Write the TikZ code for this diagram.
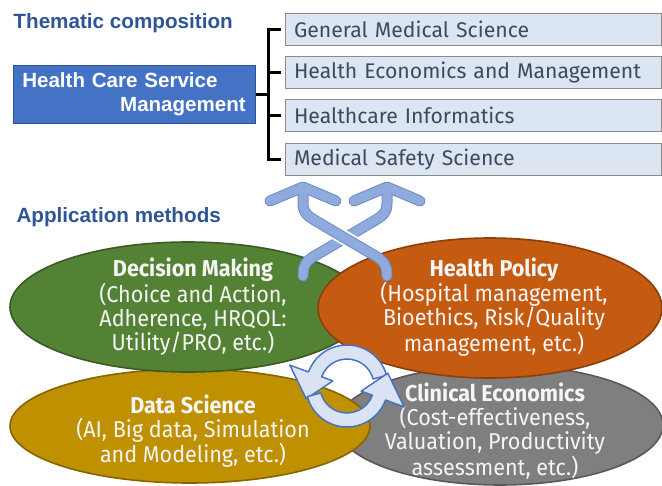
\documentclass[tikz,border=0pt]{standalone}
\usepackage{fontspec}
\setmainfont{Liberation Sans}
\newfontfamily\boxfont{Fira Sans}
\newfontfamily\ellfont[FakeStretch=0.94]{Fira Sans}
\usetikzlibrary{shapes.geometric,shadows}
\definecolor{headblue}{RGB}{47,85,151}
\definecolor{hcsmfill}{RGB}{68,114,196}
\definecolor{hcsmedge}{RGB}{47,82,143}
\definecolor{boxfill}{RGB}{220,229,242}
\definecolor{boxedge}{RGB}{140,140,140}
\definecolor{boxtext}{RGB}{62,74,92}
\definecolor{dmgreen}{RGB}{84,130,53}
\definecolor{hporange}{RGB}{197,90,17}
\definecolor{dsgold}{RGB}{191,144,0}
\definecolor{cegray}{RGB}{127,127,127}
\definecolor{arrowfill}{RGB}{143,170,220}
\definecolor{arrowedge}{RGB}{110,140,200}
\definecolor{cycfill}{RGB}{218,227,243}
\definecolor{cycedge}{RGB}{68,114,196}
\definecolor{elltext}{RGB}{245,245,245}

\tikzset{every picture/.style={line width=0.75pt}}

\begin{document}
\begin{tikzpicture}[x=0.75pt,y=0.75pt,yscale=-1,xscale=1,
  heading/.style={anchor=west,inner sep=0.75pt,text=headblue,font=\fontsize{15.5}{18}\selectfont\bfseries},
  themebox/.style={draw=boxedge,fill=boxfill,minimum height=24pt,text width=268.5pt,inner xsep=6.75pt,inner ysep=0pt,align=left,text=boxtext,font=\boxfont\fontsize{15.9}{18}\selectfont,drop shadow={shadow xshift=1pt,shadow yshift=-1pt,opacity=0.35}},
  bracket/.style={line width=2.25pt,line join=miter},
  ellipsebox/.style={ellipse,inner sep=0pt,line width=1.2pt},
  ellipsetext/.style={align=center,inner sep=0pt,text=elltext,font=\ellfont\fontsize{17.2}{18}\selectfont},
  xarrow/.style={draw=arrowedge,double=arrowfill,double distance=6.75pt,line width=0.75pt,line cap=round,line join=round},
  cycarrow/.style={draw=cycedge,fill=cycfill,line width=1.1pt,line join=round}]
\useasboundingbox (0,0) rectangle (662,486);

% Headings
\node[heading] (thematic) at (12,23) {Thematic composition};
\node[heading] (methods) at (15,217) {Application methods};

% Main theme box
\node[draw=hcsmedge,fill=hcsmfill,minimum width=181.5pt,minimum height=43.5pt,text width=167.5pt,inner xsep=7pt,align=left,text=white,font=\fontsize{15.4}{18}\selectfont\bfseries] (hcsm) at (134,94) {Health Care Service\\\hspace*{\fill}Management};

% Thematic composition boxes
\node[themebox] (gms) at (473,29) {General Medical Science};
\node[themebox] (hem) at (473,72) {Health Economics and Management};
\node[themebox] (hci) at (473,115) {Healthcare Informatics};
\node[themebox] (mss) at (473,159) {Medical Safety Science};

% Bracket
\coordinate (spine) at (268,94);
\draw[bracket] (hcsm.east) -- (spine);
\draw[bracket] ([xshift=-3pt]gms.west) -| (spine |- mss.west) -- ([xshift=-3pt]mss.west);
\draw[bracket] ([xshift=-3pt]hem.west) -- (spine |- hem.west);
\draw[bracket] ([xshift=-3pt]hci.west) -- (spine |- hci.west);

% Application method ellipses
\node[ellipsebox,draw=cegray!70!black,fill=cegray,minimum width=244.5pt,minimum height=90pt] (ce) at (500,425) {};
\node[ellipsebox,draw=dsgold!70!black,fill=dsgold,minimum width=270pt,minimum height=85.5pt] (ds) at (190,426) {};
\node[ellipsebox,draw=dmgreen!70!black,fill=dmgreen,minimum width=267pt,minimum height=97.5pt] (dm) at (188,307) {};
\node[ellipsebox,draw=hporange!70!black,fill=hporange,minimum width=258pt,minimum height=105pt] (hp) at (490,308) {};

% Ellipse texts
\node[ellipsetext] (dmtext) at (193,307) {{\bfseries Decision Making}\\(Choice and Action,\\Adherence, HRQOL:\\Utility/PRO, etc.)};
\node[ellipsetext] (hptext) at (494,307) {{\bfseries Health Policy}\\(Hospital management,\\Bioethics, Risk/Quality\\management, etc.)};
\node[ellipsetext] (dstext) at (193,431) {{\bfseries Data Science}\\(AI, Big data, Simulation\\and Modeling, etc.)};
\node[ellipsetext] (cetext) at (495,431) {{\bfseries Clinical Economics}\\(Cost-effectiveness,\\Valuation, Productivity\\assessment, etc.)};

% Crossing arrows
\draw[xarrow] (354,201) -- (387,187) -- (420,201) (387,188) -- (387,203) .. controls (387,212) and (384,215) .. (374,221) -- (318,254) .. controls (307,260) and (303,264) .. (303,276);
\begin{scope}
\clip (328,226) rectangle (362,250);
\draw[white,line width=11pt] (316,221) -- (372,254);
\end{scope}
\draw[xarrow] (270,201) -- (303,187) -- (336,201) (303,188) -- (303,203) .. controls (303,212) and (306,215) .. (316,221) -- (372,254) .. controls (383,260) and (387,264) .. (387,276);

% Cycle arrows
\begin{scope}[shift={(347,386)}]
\draw[cycarrow] (-15:41) arc[start angle=-15,end angle=-160,radius=41] -- (-57.2,-20.9) -- (-40.8,12.8) -- (-14.2,-5.1) -- (-160:27) arc[start angle=-160,end angle=-15,radius=27] -- cycle;
\draw[cycarrow] (165:41) arc[start angle=165,end angle=20,radius=41] -- (57.2,20.9) -- (40.8,-12.8) -- (14.2,5.1) -- (20:27) arc[start angle=20,end angle=165,radius=27] -- cycle;
\end{scope}

\end{tikzpicture}
\end{document}
